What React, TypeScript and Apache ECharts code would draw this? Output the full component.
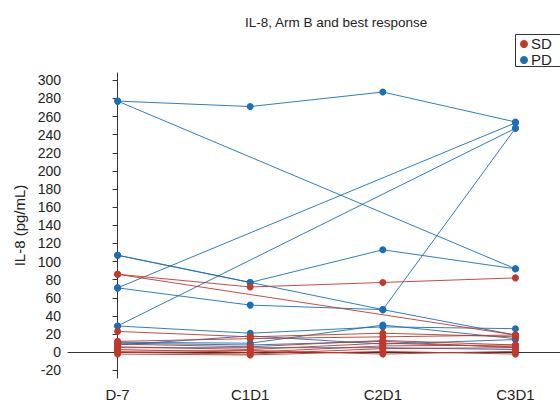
import React, { useEffect, useRef } from "react";
import * as echarts from "echarts";

const categories = ["D-7", "C1D1", "C2D1", "C3D1"];
const yTicks = [-20, 0, 20, 40, 60, 80, 100, 120, 140, 160, 180, 200, 220, 240, 260, 280, 300];
const legendNames = ["SD", "PD"];

// PD patients (blue): values at D-7, C1D1, C2D1, C3D1 (null = missing)
const pdPatients: (number | null)[][] = [
  [277, 271, 287, 254],
  [277, null, null, 92],
  [107, 77, 113, 92],
  [107, 77, 47, 19],
  [71, null, null, 253],
  [71, 52, 47, 247],
  [29, null, null, 247],
  [29, 21, 28, 26],
  [11, 10, 30, 15],
  [8, 18, 9, 14],
  [5, 5, 5, 3],
  [10, 8, 12, 5],
];

// SD patients (red)
const sdPatients: (number | null)[][] = [
  [86, 72, 77, 82],
  [86, null, null, 19],
  [23, 17, 21, 17],
  [12, 15, 17, 19],
  [9, 6, 13, 8],
  [6, 3, 10, 6],
  [3, 0, 7, 8],
  [0, -2, 4, 5],
  [-2, -3, 1, -2],
  [1, 2, -2, 1],
];

const BLUE = "#1b6fb5";
const RED = "#c0392b";
const FONT = "Liberation Sans, Arial, sans-serif";

function toPoints(vals: (number | null)[]) {
  const pts: number[][] = [];
  vals.forEach((v, i) => {
    if (v !== null) pts.push([i, v]);
  });
  return pts;
}

function makeSeries(name: string, color: string, rows: (number | null)[][], z: number) {
  return rows.map((r) => ({
    name,
    type: "line",
    data: toPoints(r),
    symbol: "circle",
    symbolSize: 7,
    showSymbol: true,
    z,
    itemStyle: { color },
    lineStyle: { color, width: 1, opacity: 0.9 },
    emphasis: { disabled: true },
  }));
}

export default function App() {
  const ref = useRef<HTMLDivElement>(null);
  useEffect(() => {
    if (!ref.current) return;
    const chart = echarts.init(ref.current, undefined, { renderer: "svg" });
    chart.setOption({
      animation: false,
      backgroundColor: "#fff",
      textStyle: { fontFamily: FONT },
      title: {
        text: "IL-8, Arm B and best response",
        left: 240,
        top: 10,
        textStyle: { fontFamily: FONT, fontSize: 13.5, fontWeight: "normal", color: "#222" },
      },
      graphic: [
        {
          type: "rect",
          shape: { x: 515.5, y: 34.5, width: 60, height: 32 },
          style: { fill: "#fff", stroke: "#333", lineWidth: 1 },
          z: 100,
        },
        {
          type: "circle",
          shape: { cx: 524, cy: 44, r: 4 },
          style: { fill: RED },
          z: 101,
        },
        {
          type: "text",
          x: 531,
          y: 43.5,
          style: {
            text: legendNames[0],
            fontFamily: FONT,
            fontSize: 15,
            lineHeight: 15,
            fill: "#222",
            verticalAlign: "middle",
          },
          z: 101,
        },
        {
          type: "circle",
          shape: { cx: 524, cy: 60, r: 4 },
          style: { fill: BLUE },
          z: 101,
        },
        {
          type: "text",
          x: 531,
          y: 59.5,
          style: {
            text: legendNames[1],
            fontFamily: FONT,
            fontSize: 15,
            lineHeight: 15,
            fill: "#222",
            verticalAlign: "middle",
          },
          z: 101,
        },
      ],
      grid: { left: 68, right: 0, top: 73, bottom: 24 },
      xAxis: {
        type: "value",
        min: -0.374,
        max: 3.336,
        splitLine: { show: false },
        axisLine: { show: true, lineStyle: { color: "#333", width: 1 } },
        axisTick: { show: true, customValues: [0, 1, 2, 3], length: 5, lineStyle: { color: "#333" } },
        axisLabel: {
          customValues: [0, 1, 2, 3],
          formatter: (v: number) => categories[Math.round(v)] ?? "",
          fontFamily: FONT,
          fontSize: 15,
          color: "#222",
          margin: 9,
        },
      },
      yAxis: {
        type: "value",
        min: -28.4,
        max: 308,
        name: "IL-8 (pg/mL)",
        nameLocation: "middle",
        nameGap: 41,
        nameTextStyle: { fontFamily: FONT, fontSize: 15, color: "#222" },
        splitLine: { show: false },
        axisLine: { show: true, lineStyle: { color: "#333", width: 1 } },
        axisTick: { show: true, customValues: yTicks, length: 5, lineStyle: { color: "#333" } },
        axisLabel: {
          customValues: yTicks,
          fontFamily: FONT,
          fontSize: 14,
          color: "#222",
          margin: 7,
        },
      },
      series: [...makeSeries("PD", BLUE, pdPatients, 2), ...makeSeries("SD", RED, sdPatients, 3)],
    });
    return () => chart.dispose();
  }, []);
  return (
    <div
      ref={ref}
      style={{ position: "absolute", left: 0, top: 0, width: 560, height: 402 }}
    />
  );
}
